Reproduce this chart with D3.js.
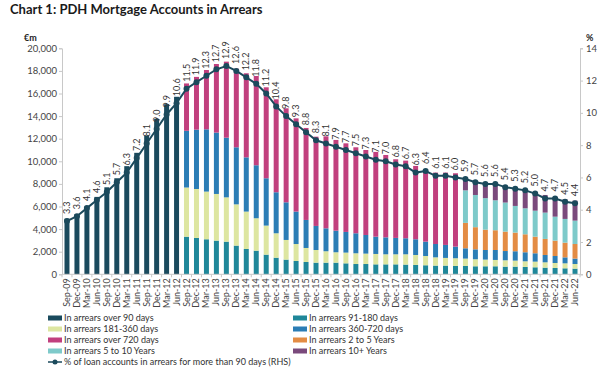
<!DOCTYPE html>
<html><head><meta charset="utf-8">
<script src="https://cdn.jsdelivr.net/npm/d3@7"></script>
<style>body{margin:0;background:#fff;} svg{display:block;font-family:Lato,"Open Sans",sans-serif;}</style>
</head><body><svg id="c" width="614" height="379"></svg>
<script>
const quarters = ["Sep-09","Dec-09","Mar-10","Jun-10","Sep-10","Dec-10","Mar-11","Jun-11","Sep-11","Dec-11","Mar-12","Jun-12","Sep-12","Dec-12","Mar-13","Jun-13","Sep-13","Dec-13","Mar-14","Jun-14","Sep-14","Dec-14","Mar-15","Jun-15","Sep-15","Dec-15","Mar-16","Jun-16","Sep-16","Dec-16","Mar-17","Jun-17","Sep-17","Dec-17","Mar-18","Jun-18","Sep-18","Dec-18","Mar-19","Jun-19","Sep-19","Dec-19","Mar-20","Jun-20","Sep-20","Dec-20","Mar-21","Jun-21","Sep-21","Dec-21","Mar-22","Jun-22"];
const N = null;
const over90   = [4920,5320,6000,6850,7700,8500,9570,10750,12280,13750,15050,15710, N,N,N,N,N,N,N,N,N,N,N,N,N,N,N,N,N,N,N,N,N,N,N,N,N,N,N,N, N,N,N,N,N,N,N,N,N,N,N,N];
const d91_180  = [N,N,N,N,N,N,N,N,N,N,N,N, 3330,3220,3100,2980,2890,2540,2240,2090,1740,1470,1300,1180,1090,1030,1030,1030,970,910,910,880,880,880,860,830,800,770,770,740, 740,710,710,710,680,680,650,620,590,560,530,500];
const d181_360 = [N,N,N,N,N,N,N,N,N,N,N,N, 4350,4330,4220,4130,3920,3650,3310,2870,2570,2160,1740,1500,1240,1120,1010,920,950,950,920,920,890,890,910,880,820,730,680,680, 650,620,590,560,560,530,500,500,470,440,440,410];
const d360_720 = [N,N,N,N,N,N,N,N,N,N,N,N, 5020,5250,5510,5430,5280,5050,4800,4690,4190,3630,3330,2870,2480,2130,2030,1910,1830,1770,1650,1530,1500,1450,1420,1390,1270,1180,1150,1030, 910,880,850,880,820,830,800,740,650,620,530,480];
const over720  = [N,N,N,N,N,N,N,N,N,N,N,N, 4190,4670,5250,6070,6730,6960,7440,7900,8050,8230,8320,8250,8140,7900,8140,8030,7840,7610,7520,7500,7290,6960,6870,6490,6400,6320,6400,6490, N,N,N,N,N,N,N,N,N,N,N,N];
const y2_5     = [N,N,N,N,N,N,N,N,N,N,N,N, N,N,N,N,N,N,N,N,N,N,N,N,N,N,N,N,N,N,N,N,N,N,N,N,N,N,N,N, 2250,1960,1800,1750,1720,1650,1590,1470,1420,1360,1300,1290];
const y5_10    = [N,N,N,N,N,N,N,N,N,N,N,N, N,N,N,N,N,N,N,N,N,N,N,N,N,N,N,N,N,N,N,N,N,N,N,N,N,N,N,N, 2880,2850,2790,2650,2570,2360,2300,2300,2330,2120,2100,2070];
const y10plus  = [N,N,N,N,N,N,N,N,N,N,N,N, N,N,N,N,N,N,N,N,N,N,N,N,N,N,N,N,N,N,N,N,N,N,N,N,N,N,N,N, 920,1030,1110,1500,1430,1500,1620,1600,1560,1750,1740,1770];
const pctOver90 = [3.3,3.6,4.1,4.6,5.1,5.7,6.3,7.2,8.1,9.0,9.9,10.6,11.5,11.9,12.3,12.7,12.9,12.6,12.2,11.8,11.2,10.4,9.8,9.3,8.8,8.3,8.1,7.9,7.7,7.5,7.3,7.1,7.0,6.8,6.7,6.3,6.4,6.1,6.1,6.0,5.9,5.7,5.6,5.6,5.4,5.3,5.2,5.0,4.7,4.7,4.5,4.4];
const leftTicks = [0,2000,4000,6000,8000,10000,12000,14000,16000,18000,20000];
const rightTicks = [0,2,4,6,8,10,12,14];

const seriesDefs = [
  {key:"over90", name:"In arrears over 90 days", values:over90, color:"#1a4a5d"},
  {key:"d91", name:"In arrears 91-180 days", values:d91_180, color:"#1f8799"},
  {key:"d181", name:"In arrears 181-360 days", values:d181_360, color:"#dde6a1"},
  {key:"d360", name:"In arrears 360-720 days", values:d360_720, color:"#2b7db5"},
  {key:"o720", name:"In arrears over 720 days", values:over720, color:"#c1407e"},
  {key:"y25", name:"In arrears 2 to 5 Years", values:y2_5, color:"#e38c44"},
  {key:"y510", name:"In arrears 5 to 10 Years", values:y5_10, color:"#7ecaca"},
  {key:"y10", name:"In arrears 10+ Years", values:y10plus, color:"#7a4a7c"}
];
const lineName = "% of loan accounts in arrears for more than 90 days (RHS)";
const lineColor = "#1b4a5c";

const table = quarters.map((q,i)=>{const o={q}; seriesDefs.forEach(s=>o[s.key]=s.values[i]||0); return o;});
const stack = d3.stack().keys(seriesDefs.map(s=>s.key))(table);

const svg = d3.select("#c");
const x = d3.scaleBand().domain(quarters).range([62,580]).paddingInner(0.5).paddingOuter(0.25);
const y = d3.scaleLinear().domain([0,20000]).range([274.3,48.3]);
const yR = d3.scaleLinear().domain([0,14]).range([274.3,48.3]);

svg.append("text").attr("x",10).attr("y",14).attr("font-size",13).attr("font-weight","bold").attr("fill","#1a1a1a").text("Chart 1: PDH Mortgage Accounts in Arrears");
svg.append("text").attr("x",24).attr("y",41).attr("font-size",9).attr("font-weight","bold").attr("fill","#222").text("€m");
svg.append("text").attr("x",586).attr("y",41).attr("font-size",9).attr("font-weight","bold").attr("fill","#222").text("%");

// axes
const gl = svg.append("g").attr("transform","translate(62,0)").call(d3.axisLeft(y).tickValues(leftTicks).tickSize(3).tickFormat(d3.format(",")));
const gr = svg.append("g").attr("transform","translate(580,0)").call(d3.axisRight(yR).tickValues(rightTicks).tickSize(3).tickFormat(d3.format("d")));
[gl,gr].forEach(g=>{g.select(".domain").attr("stroke","#c8c8c8"); g.selectAll(".tick line").attr("stroke","#c8c8c8"); g.selectAll("text").attr("font-size",9.5).attr("fill","#444").attr("font-family","Lato,sans-serif");});
gl.selectAll("text").attr("x",-5);
gr.selectAll("text").attr("x",6);

// bars
svg.append("g").selectAll("g").data(stack).join("g").attr("fill",(d,i)=>seriesDefs[i].color)
  .selectAll("rect").data(d=>d.filter(p=>p[1]>p[0])).join("rect")
  .attr("x",d=>x(d.data.q)).attr("width",x.bandwidth())
  .attr("y",d=>y(d[1])).attr("height",d=>y(d[0])-y(d[1]));

// x axis
const gx = svg.append("g").attr("transform","translate(0,274.3)");
gx.append("line").attr("x1",62).attr("x2",580).attr("stroke","#c8c8c8");
gx.selectAll("line.t").data(quarters.concat(["end"])).join("line").attr("class","t")
  .attr("x1",(d,i)=>62 + i*518/quarters.length).attr("x2",(d,i)=>62 + i*518/quarters.length)
  .attr("y1",0).attr("y2",3).attr("stroke","#c8c8c8");
gx.selectAll("text").data(quarters).join("text")
  .attr("transform",d=>`translate(${x(d)+x.bandwidth()/2+3},4) rotate(-90)`)
  .attr("text-anchor","end").attr("font-size",9).attr("fill","#444").text(d=>d);

// line
const cx = (i)=>x(quarters[i])+x.bandwidth()/2;
svg.append("path").datum(pctOver90).attr("fill","none").attr("stroke",lineColor).attr("stroke-width",2)
  .attr("d",d3.line().x((d,i)=>cx(i)).y(d=>yR(d)));
svg.append("g").selectAll("circle").data(pctOver90).join("circle").attr("cx",(d,i)=>cx(i)).attr("cy",d=>yR(d)).attr("r",3).attr("fill",lineColor);
svg.append("g").selectAll("text").data(pctOver90).join("text")
  .attr("transform",(d,i)=>`translate(${cx(i)+3},${yR(d)-7}) rotate(-90)`)
  .attr("font-size",9).attr("fill","#333").text(d=>d.toFixed(1));

// legend
const leg = svg.append("g").attr("font-size",9).attr("fill","#333");
seriesDefs.forEach((s,i)=>{
  const col=i%2,row=Math.floor(i/2);
  const lx = col===0?48:293, ly = 318+row*11;
  leg.append("rect").attr("x",lx).attr("y",ly-2.5).attr("width",14).attr("height",5).attr("fill",s.color);
  leg.append("text").attr("x",lx+16).attr("y",ly+3).text(s.name);
});
leg.append("line").attr("x1",48).attr("x2",62).attr("y1",362).attr("y2",362).attr("stroke",lineColor).attr("stroke-width",1.5);
leg.append("circle").attr("cx",55).attr("cy",362).attr("r",2.5).attr("fill",lineColor);
leg.append("text").attr("x",64).attr("y",365).text(lineName);
</script></body></html>
